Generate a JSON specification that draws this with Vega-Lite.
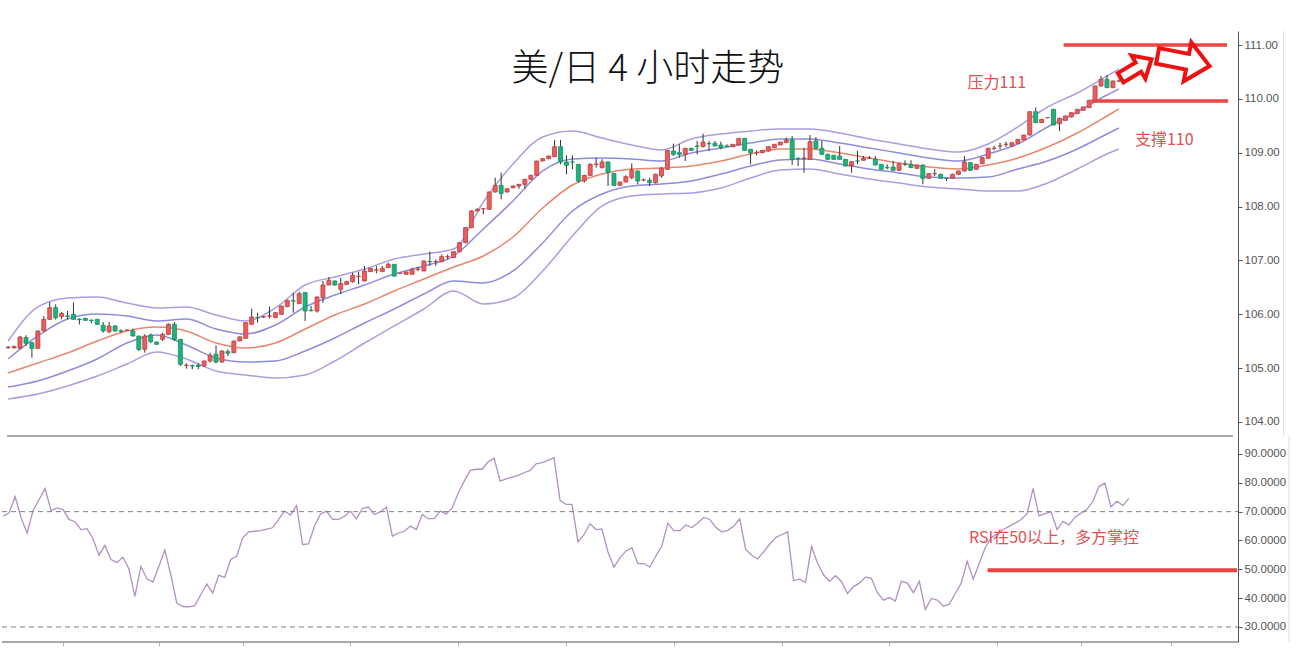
{
"$schema":"https://vega.github.io/schema/vega-lite/v6.json",
"background":"white",
"padding":{"left":0,"top":30,"right":20,"bottom":20},
"spacing":0,
"bounds":"flush",
"config":{"view":{"stroke":null},"axis":{"grid":false,"title":null,"domainColor":"#555555","tickColor":"#555555","labelColor":"#555555","labelFontSize":11.5,"labelFont":"Liberation Sans"}},
"datasets":{
"bands":[
{"t":0,"uo":105.504,"ui":105.170,"m":104.910,"li":104.650,"lo":104.427},
{"t":5,"uo":106.136,"ui":105.597,"m":105.096,"li":104.762,"lo":104.520},
{"t":10,"uo":106.303,"ui":105.913,"m":105.281,"li":104.947,"lo":104.669},
{"t":15,"uo":106.321,"ui":106.005,"m":105.504,"li":105.170,"lo":104.854},
{"t":20,"uo":106.210,"ui":105.968,"m":105.690,"li":105.467,"lo":105.077},
{"t":25,"uo":106.117,"ui":105.876,"m":105.764,"li":105.616,"lo":105.300},
{"t":30,"uo":106.136,"ui":105.913,"m":105.690,"li":105.430,"lo":105.170},
{"t":35,"uo":105.987,"ui":105.727,"m":105.467,"li":105.189,"lo":104.947},
{"t":40,"uo":105.876,"ui":105.634,"m":105.374,"li":105.114,"lo":104.873},
{"t":45,"uo":106.117,"ui":105.801,"m":105.467,"li":105.133,"lo":104.817},
{"t":50,"uo":106.544,"ui":106.136,"m":105.727,"li":105.319,"lo":104.873},
{"t":55,"uo":106.692,"ui":106.358,"m":105.987,"li":105.560,"lo":105.133},
{"t":60,"uo":106.841,"ui":106.544,"m":106.191,"li":105.838,"lo":105.467},
{"t":65,"uo":107.027,"ui":106.748,"m":106.433,"li":106.098,"lo":105.783},
{"t":70,"uo":107.119,"ui":106.897,"m":106.655,"li":106.377,"lo":106.098},
{"t":75,"uo":107.212,"ui":107.082,"m":106.878,"li":106.618,"lo":106.433},
{"t":80,"uo":108.085,"ui":107.584,"m":107.082,"li":106.581,"lo":106.191},
{"t":85,"uo":108.791,"ui":108.104,"m":107.435,"li":106.804,"lo":106.303},
{"t":90,"uo":109.292,"ui":108.661,"m":107.974,"li":107.324,"lo":106.804},
{"t":95,"uo":109.403,"ui":108.883,"m":108.401,"li":107.918,"lo":107.454},
{"t":100,"uo":109.273,"ui":108.902,"m":108.605,"li":108.234,"lo":108.011},
{"t":105,"uo":109.143,"ui":108.883,"m":108.698,"li":108.382,"lo":108.196},
{"t":110,"uo":109.051,"ui":108.846,"m":108.716,"li":108.419,"lo":108.234},
{"t":115,"uo":109.255,"ui":108.995,"m":108.753,"li":108.475,"lo":108.252},
{"t":120,"uo":109.348,"ui":109.088,"m":108.846,"li":108.605,"lo":108.345},
{"t":125,"uo":109.403,"ui":109.180,"m":108.976,"li":108.753,"lo":108.531},
{"t":130,"uo":109.441,"ui":109.255,"m":109.069,"li":108.865,"lo":108.679},
{"t":135,"uo":109.441,"ui":109.255,"m":109.069,"li":108.883,"lo":108.698},
{"t":140,"uo":109.366,"ui":109.180,"m":108.995,"li":108.791,"lo":108.605},
{"t":145,"uo":109.255,"ui":109.088,"m":108.902,"li":108.698,"lo":108.512},
{"t":150,"uo":109.162,"ui":108.995,"m":108.809,"li":108.624,"lo":108.438},
{"t":155,"uo":109.069,"ui":108.902,"m":108.735,"li":108.549,"lo":108.364},
{"t":160,"uo":109.013,"ui":108.846,"m":108.698,"li":108.531,"lo":108.326},
{"t":165,"uo":109.162,"ui":108.976,"m":108.772,"li":108.549,"lo":108.289},
{"t":170,"uo":109.478,"ui":109.162,"m":108.902,"li":108.698,"lo":108.289},
{"t":175,"uo":109.849,"ui":109.478,"m":109.106,"li":108.846,"lo":108.438},
{"t":180,"uo":110.109,"ui":109.756,"m":109.366,"li":109.069,"lo":108.698},
{"t":185,"uo":110.424,"ui":110.072,"m":109.682,"li":109.348,"lo":108.976},
{"t":187,"uo":110.554,"ui":110.183,"m":109.812,"li":109.459,"lo":109.069}
],
"candles":[
{"t":0,"o":105.38,"h":105.41,"l":105.36,"c":105.39,"r":68.4},
{"t":1,"o":105.38,"h":105.42,"l":105.36,"c":105.40,"r":69.6},
{"t":2,"o":105.368,"h":105.6,"l":105.36,"c":105.578,"r":75.2},
{"t":3,"o":105.566,"h":105.609,"l":105.411,"c":105.461,"r":67.8},
{"t":4,"o":105.473,"h":105.49,"l":105.194,"c":105.368,"r":62.6},
{"t":5,"o":105.368,"h":105.7,"l":105.36,"c":105.69,"r":70.4},
{"t":6,"o":105.69,"h":105.968,"l":105.68,"c":105.906,"r":74.2},
{"t":7,"o":105.906,"h":106.228,"l":105.9,"c":106.123,"r":78.0},
{"t":8,"o":106.123,"h":106.185,"l":105.906,"c":105.937,"r":70.4},
{"t":9,"o":105.956,"h":106.042,"l":105.906,"c":106.018,"r":71.3},
{"t":10,"o":105.97,"h":106.061,"l":105.906,"c":105.96,"r":70.7},
{"t":11,"o":105.999,"h":106.22,"l":105.9,"c":105.906,"r":67.3},
{"t":12,"o":105.91,"h":105.925,"l":105.813,"c":105.9,"r":66.5},
{"t":13,"o":105.925,"h":105.93,"l":105.88,"c":105.888,"r":63.8},
{"t":14,"o":105.89,"h":105.906,"l":105.832,"c":105.885,"r":64.1},
{"t":15,"o":105.906,"h":105.91,"l":105.8,"c":105.813,"r":60.7},
{"t":16,"o":105.795,"h":105.857,"l":105.659,"c":105.69,"r":54.9},
{"t":17,"o":105.677,"h":105.857,"l":105.646,"c":105.782,"r":58.3},
{"t":18,"o":105.782,"h":105.8,"l":105.68,"c":105.69,"r":53.4},
{"t":19,"o":105.69,"h":105.72,"l":105.659,"c":105.685,"r":52.4},
{"t":20,"o":105.7,"h":105.72,"l":105.69,"c":105.705,"r":54.2},
{"t":21,"o":105.69,"h":105.733,"l":105.59,"c":105.597,"r":50.2},
{"t":22,"o":105.597,"h":105.6,"l":105.318,"c":105.349,"r":40.6},
{"t":23,"o":105.349,"h":105.628,"l":105.287,"c":105.597,"r":51.0},
{"t":24,"o":105.615,"h":105.646,"l":105.461,"c":105.491,"r":46.7},
{"t":25,"o":105.485,"h":105.49,"l":105.44,"c":105.442,"r":45.6},
{"t":26,"o":105.535,"h":105.659,"l":105.504,"c":105.628,"r":51.0},
{"t":27,"o":105.628,"h":105.832,"l":105.62,"c":105.813,"r":56.7},
{"t":28,"o":105.813,"h":105.857,"l":105.504,"c":105.535,"r":48.1},
{"t":29,"o":105.535,"h":105.54,"l":105.04,"c":105.071,"r":38.3},
{"t":30,"o":105.05,"h":105.089,"l":104.99,"c":105.055,"r":37.1},
{"t":31,"o":105.045,"h":105.064,"l":104.978,"c":105.04,"r":37.0},
{"t":32,"o":105.052,"h":105.09,"l":104.978,"c":105.03,"r":37.4},
{"t":33,"o":105.04,"h":105.14,"l":105.03,"c":105.133,"r":41.2},
{"t":34,"o":105.133,"h":105.287,"l":105.102,"c":105.238,"r":44.9},
{"t":35,"o":105.256,"h":105.423,"l":105.089,"c":105.114,"r":41.8},
{"t":36,"o":105.114,"h":105.33,"l":105.1,"c":105.318,"r":47.9},
{"t":37,"o":105.306,"h":105.349,"l":105.225,"c":105.275,"r":47.2},
{"t":38,"o":105.287,"h":105.51,"l":105.28,"c":105.504,"r":53.4},
{"t":39,"o":105.505,"h":105.59,"l":105.5,"c":105.58,"r":54.5},
{"t":40,"o":105.554,"h":105.85,"l":105.55,"c":105.845,"r":60.9},
{"t":41,"o":105.814,"h":106.105,"l":105.8,"c":105.95,"r":63.0},
{"t":42,"o":105.94,"h":106.03,"l":105.845,"c":105.935,"r":63.2},
{"t":43,"o":105.95,"h":105.97,"l":105.93,"c":105.955,"r":63.4},
{"t":44,"o":105.965,"h":106.142,"l":105.925,"c":105.97,"r":63.9},
{"t":45,"o":105.938,"h":106.04,"l":105.93,"c":106.03,"r":64.4},
{"t":46,"o":106.0,"h":106.16,"l":105.99,"c":106.154,"r":67.3},
{"t":47,"o":106.142,"h":106.27,"l":106.13,"c":106.259,"r":70.2},
{"t":48,"o":106.25,"h":106.4,"l":106.03,"c":106.245,"r":68.8},
{"t":49,"o":106.197,"h":106.42,"l":106.19,"c":106.383,"r":72.1},
{"t":50,"o":106.402,"h":106.41,"l":105.876,"c":106.061,"r":58.6},
{"t":51,"o":106.075,"h":106.154,"l":106.05,"c":106.07,"r":58.8},
{"t":52,"o":106.061,"h":106.33,"l":106.03,"c":106.321,"r":65.0},
{"t":53,"o":106.309,"h":106.618,"l":106.216,"c":106.544,"r":69.2},
{"t":54,"o":106.544,"h":106.693,"l":106.54,"c":106.631,"r":70.2},
{"t":55,"o":106.618,"h":106.63,"l":106.53,"c":106.544,"r":67.3},
{"t":56,"o":106.464,"h":106.68,"l":106.371,"c":106.569,"r":67.3},
{"t":57,"o":106.556,"h":106.62,"l":106.55,"c":106.606,"r":68.4},
{"t":58,"o":106.606,"h":106.773,"l":106.587,"c":106.724,"r":70.2},
{"t":59,"o":106.7,"h":106.79,"l":106.556,"c":106.705,"r":67.5},
{"t":60,"o":106.618,"h":106.897,"l":106.61,"c":106.804,"r":71.1},
{"t":61,"o":106.792,"h":106.86,"l":106.79,"c":106.854,"r":71.6},
{"t":62,"o":106.82,"h":106.897,"l":106.76,"c":106.825,"r":69.0},
{"t":63,"o":106.792,"h":106.897,"l":106.79,"c":106.854,"r":70.0},
{"t":64,"o":106.866,"h":106.96,"l":106.86,"c":106.928,"r":71.6},
{"t":65,"o":106.928,"h":106.93,"l":106.7,"c":106.711,"r":61.5},
{"t":66,"o":106.76,"h":106.77,"l":106.75,"c":106.76,"r":62.6},
{"t":67,"o":106.742,"h":106.79,"l":106.74,"c":106.786,"r":63.2},
{"t":68,"o":106.742,"h":106.866,"l":106.74,"c":106.835,"r":65.0},
{"t":69,"o":106.835,"h":106.88,"l":106.8,"c":106.84,"r":63.8},
{"t":70,"o":106.804,"h":107.0,"l":106.8,"c":106.99,"r":69.0},
{"t":71,"o":106.98,"h":107.163,"l":106.897,"c":106.975,"r":67.6},
{"t":72,"o":106.975,"h":107.02,"l":106.897,"c":106.98,"r":67.6},
{"t":73,"o":106.977,"h":107.11,"l":106.97,"c":107.07,"r":70.2},
{"t":74,"o":107.07,"h":107.11,"l":107.02,"c":107.072,"r":69.2},
{"t":75,"o":107.052,"h":107.17,"l":107.05,"c":107.163,"r":71.3},
{"t":76,"o":107.163,"h":107.34,"l":107.16,"c":107.33,"r":76.5},
{"t":77,"o":107.33,"h":107.62,"l":107.32,"c":107.608,"r":80.6},
{"t":78,"o":107.608,"h":107.93,"l":107.6,"c":107.918,"r":84.3},
{"t":79,"o":107.918,"h":107.97,"l":107.91,"c":107.949,"r":84.7},
{"t":80,"o":107.96,"h":107.97,"l":107.856,"c":107.961,"r":84.7},
{"t":81,"o":107.949,"h":108.28,"l":107.94,"c":108.271,"r":87.3},
{"t":82,"o":108.271,"h":108.537,"l":108.26,"c":108.394,"r":88.5},
{"t":83,"o":108.394,"h":108.63,"l":108.134,"c":108.246,"r":80.6},
{"t":84,"o":108.271,"h":108.34,"l":108.26,"c":108.332,"r":81.4},
{"t":85,"o":108.351,"h":108.39,"l":108.34,"c":108.382,"r":82.0},
{"t":86,"o":108.382,"h":108.42,"l":108.33,"c":108.413,"r":82.6},
{"t":87,"o":108.413,"h":108.51,"l":108.33,"c":108.506,"r":83.5},
{"t":88,"o":108.506,"h":108.59,"l":108.5,"c":108.58,"r":84.3},
{"t":89,"o":108.58,"h":108.85,"l":108.57,"c":108.846,"r":86.6},
{"t":90,"o":108.846,"h":108.9,"l":108.84,"c":108.889,"r":87.0},
{"t":91,"o":108.889,"h":108.945,"l":108.88,"c":108.939,"r":87.8},
{"t":92,"o":108.927,"h":109.236,"l":108.92,"c":109.112,"r":88.7},
{"t":93,"o":109.112,"h":109.236,"l":108.784,"c":108.828,"r":73.9},
{"t":94,"o":108.828,"h":108.951,"l":108.599,"c":108.766,"r":72.5},
{"t":95,"o":108.83,"h":108.951,"l":108.692,"c":108.828,"r":72.5},
{"t":96,"o":108.784,"h":108.79,"l":108.444,"c":108.475,"r":59.5},
{"t":97,"o":108.475,"h":108.59,"l":108.444,"c":108.58,"r":62.0},
{"t":98,"o":108.58,"h":108.803,"l":108.57,"c":108.784,"r":65.8},
{"t":99,"o":108.784,"h":108.908,"l":108.722,"c":108.79,"r":63.8},
{"t":100,"o":108.722,"h":108.877,"l":108.71,"c":108.828,"r":64.0},
{"t":101,"o":108.828,"h":108.84,"l":108.382,"c":108.63,"r":56.0},
{"t":102,"o":108.617,"h":108.62,"l":108.382,"c":108.394,"r":50.8},
{"t":103,"o":108.394,"h":108.46,"l":108.39,"c":108.456,"r":54.0},
{"t":104,"o":108.456,"h":108.58,"l":108.45,"c":108.555,"r":56.3},
{"t":105,"o":108.537,"h":108.803,"l":108.506,"c":108.673,"r":57.5},
{"t":106,"o":108.66,"h":108.67,"l":108.413,"c":108.475,"r":52.0},
{"t":107,"o":108.494,"h":108.52,"l":108.47,"c":108.495,"r":52.0},
{"t":108,"o":108.487,"h":108.537,"l":108.382,"c":108.444,"r":50.8},
{"t":109,"o":108.444,"h":108.61,"l":108.43,"c":108.599,"r":54.6},
{"t":110,"o":108.568,"h":108.735,"l":108.537,"c":108.71,"r":58.1},
{"t":111,"o":108.692,"h":109.05,"l":108.68,"c":109.044,"r":66.0},
{"t":112,"o":109.032,"h":109.168,"l":108.939,"c":108.97,"r":63.4},
{"t":113,"o":109.001,"h":109.156,"l":108.908,"c":108.97,"r":63.4},
{"t":114,"o":108.97,"h":109.09,"l":108.846,"c":109.081,"r":65.4},
{"t":115,"o":109.081,"h":109.09,"l":109.03,"c":109.044,"r":64.5},
{"t":116,"o":109.125,"h":109.218,"l":108.97,"c":109.12,"r":66.1},
{"t":117,"o":109.112,"h":109.354,"l":109.1,"c":109.199,"r":68.0},
{"t":118,"o":109.17,"h":109.218,"l":109.032,"c":109.168,"r":67.3},
{"t":119,"o":109.174,"h":109.218,"l":109.12,"c":109.125,"r":64.6},
{"t":120,"o":109.143,"h":109.205,"l":109.063,"c":109.094,"r":63.0},
{"t":121,"o":109.125,"h":109.156,"l":109.11,"c":109.12,"r":63.5},
{"t":122,"o":109.112,"h":109.16,"l":109.1,"c":109.156,"r":64.9},
{"t":123,"o":109.143,"h":109.27,"l":109.14,"c":109.267,"r":67.5},
{"t":124,"o":109.267,"h":109.27,"l":109.04,"c":109.044,"r":56.9},
{"t":125,"o":109.063,"h":109.07,"l":108.784,"c":109.001,"r":54.9},
{"t":126,"o":109.0,"h":109.044,"l":108.952,"c":109.001,"r":53.6},
{"t":127,"o":109.001,"h":109.05,"l":108.99,"c":109.044,"r":56.0},
{"t":128,"o":109.032,"h":109.12,"l":109.02,"c":109.112,"r":58.7},
{"t":129,"o":109.094,"h":109.16,"l":109.09,"c":109.156,"r":61.0},
{"t":130,"o":109.143,"h":109.2,"l":109.14,"c":109.199,"r":62.0},
{"t":131,"o":109.187,"h":109.28,"l":109.18,"c":109.236,"r":63.0},
{"t":132,"o":109.236,"h":109.31,"l":108.772,"c":108.877,"r":46.1},
{"t":133,"o":108.896,"h":108.91,"l":108.754,"c":108.895,"r":46.6},
{"t":134,"o":108.896,"h":109.094,"l":108.63,"c":108.9,"r":45.5},
{"t":135,"o":108.877,"h":109.329,"l":108.87,"c":109.205,"r":57.9},
{"t":136,"o":109.218,"h":109.292,"l":109.07,"c":109.081,"r":52.2},
{"t":137,"o":109.081,"h":109.218,"l":108.96,"c":108.97,"r":48.1},
{"t":138,"o":108.97,"h":108.98,"l":108.87,"c":108.877,"r":45.8},
{"t":139,"o":108.952,"h":108.96,"l":108.87,"c":108.877,"r":47.8},
{"t":140,"o":108.939,"h":109.125,"l":108.87,"c":108.877,"r":45.8},
{"t":141,"o":108.877,"h":108.88,"l":108.745,"c":108.753,"r":41.6},
{"t":142,"o":108.753,"h":108.84,"l":108.63,"c":108.834,"r":44.0},
{"t":143,"o":108.846,"h":109.032,"l":108.784,"c":108.845,"r":45.2},
{"t":144,"o":108.859,"h":108.939,"l":108.85,"c":108.896,"r":47.3},
{"t":145,"o":108.896,"h":108.939,"l":108.89,"c":108.897,"r":46.9},
{"t":146,"o":108.877,"h":108.939,"l":108.765,"c":108.772,"r":41.9},
{"t":147,"o":108.784,"h":108.79,"l":108.685,"c":108.692,"r":39.3},
{"t":148,"o":108.723,"h":108.784,"l":108.692,"c":108.722,"r":40.2},
{"t":149,"o":108.735,"h":108.846,"l":108.665,"c":108.673,"r":39.0},
{"t":150,"o":108.673,"h":108.8,"l":108.665,"c":108.797,"r":45.8},
{"t":151,"o":108.785,"h":108.859,"l":108.754,"c":108.784,"r":45.2},
{"t":152,"o":108.784,"h":108.859,"l":108.715,"c":108.723,"r":41.9},
{"t":153,"o":108.71,"h":108.78,"l":108.7,"c":108.772,"r":45.8},
{"t":154,"o":108.772,"h":108.78,"l":108.413,"c":108.524,"r":36.0},
{"t":155,"o":108.524,"h":108.62,"l":108.515,"c":108.611,"r":39.9},
{"t":156,"o":108.611,"h":108.692,"l":108.568,"c":108.612,"r":39.3},
{"t":157,"o":108.599,"h":108.61,"l":108.515,"c":108.524,"r":37.2},
{"t":158,"o":108.525,"h":108.53,"l":108.475,"c":108.524,"r":37.9},
{"t":159,"o":108.524,"h":108.61,"l":108.515,"c":108.599,"r":41.6},
{"t":160,"o":108.599,"h":108.67,"l":108.59,"c":108.66,"r":45.2},
{"t":161,"o":108.661,"h":108.94,"l":108.65,"c":108.828,"r":52.8},
{"t":162,"o":108.815,"h":108.82,"l":108.665,"c":108.673,"r":46.6},
{"t":163,"o":108.692,"h":108.79,"l":108.685,"c":108.785,"r":52.0},
{"t":164,"o":108.797,"h":108.915,"l":108.79,"c":108.908,"r":57.5},
{"t":165,"o":108.896,"h":109.09,"l":108.89,"c":109.081,"r":61.0},
{"t":166,"o":109.081,"h":109.125,"l":109.044,"c":109.082,"r":62.2},
{"t":167,"o":109.125,"h":109.187,"l":109.063,"c":109.126,"r":63.8},
{"t":168,"o":109.156,"h":109.205,"l":109.107,"c":109.157,"r":64.9},
{"t":169,"o":109.125,"h":109.19,"l":109.12,"c":109.187,"r":66.0},
{"t":170,"o":109.174,"h":109.25,"l":109.17,"c":109.249,"r":67.3},
{"t":171,"o":109.236,"h":109.33,"l":109.23,"c":109.329,"r":69.3},
{"t":172,"o":109.329,"h":109.77,"l":109.32,"c":109.762,"r":78.1},
{"t":173,"o":109.762,"h":109.837,"l":109.55,"c":109.558,"r":68.5},
{"t":174,"o":109.558,"h":109.63,"l":109.55,"c":109.62,"r":69.3},
{"t":175,"o":109.651,"h":109.66,"l":109.64,"c":109.652,"r":69.9},
{"t":176,"o":109.806,"h":109.81,"l":109.51,"c":109.515,"r":63.8},
{"t":177,"o":109.54,"h":109.65,"l":109.403,"c":109.639,"r":66.6},
{"t":178,"o":109.601,"h":109.69,"l":109.59,"c":109.682,"r":65.4},
{"t":179,"o":109.663,"h":109.75,"l":109.655,"c":109.744,"r":68.1},
{"t":180,"o":109.725,"h":109.81,"l":109.72,"c":109.806,"r":69.5},
{"t":181,"o":109.787,"h":109.855,"l":109.78,"c":109.849,"r":70.8},
{"t":182,"o":109.837,"h":109.98,"l":109.83,"c":109.973,"r":73.6},
{"t":183,"o":109.973,"h":110.245,"l":109.96,"c":110.239,"r":78.7},
{"t":184,"o":110.239,"h":110.425,"l":110.23,"c":110.363,"r":79.9},
{"t":185,"o":110.363,"h":110.443,"l":110.2,"c":110.208,"r":71.6},
{"t":186,"o":110.208,"h":110.34,"l":110.2,"c":110.332,"r":73.6},
{"t":187,"o":110.332,"h":110.36,"l":110.31,"c":110.333,"r":72.2},
{"t":188,"o":110.335,"h":110.36,"l":110.32,"c":110.336,"r":74.6}
]
},
"vconcat":[
{
"width":1236,"height":405,
"encoding":{
 "x":{"field":"t","type":"quantitative","scale":{"domain":[-0.192,206.22],"nice":false,"zero":false},"axis":null},
 "y":{"field":"l","type":"quantitative","scale":{"domain":[103.74,111.26],"nice":false,"zero":false},
  "axis":{"orient":"right","values":[104,105,106,107,108,109,110,111],"format":".2f","tickSize":4,"labelPadding":2}}
},
"layer":[
{"data":{"name":"bands"},"mark":{"type":"line","color":"#ab9ee0","strokeWidth":1.5,"interpolate":"monotone","clip":true},
 "encoding":{"y":{"field":"uo","type":"quantitative"}}},
{"data":{"name":"bands"},"mark":{"type":"line","color":"#8d8ddc","strokeWidth":1.5,"interpolate":"monotone","clip":true},
 "encoding":{"y":{"field":"ui","type":"quantitative"}}},
{"data":{"name":"bands"},"mark":{"type":"line","color":"#e8876d","strokeWidth":1.5,"interpolate":"monotone","clip":true},
 "encoding":{"y":{"field":"m","type":"quantitative"}}},
{"data":{"name":"bands"},"mark":{"type":"line","color":"#8d8ddc","strokeWidth":1.5,"interpolate":"monotone","clip":true},
 "encoding":{"y":{"field":"li","type":"quantitative"}}},
{"data":{"name":"bands"},"mark":{"type":"line","color":"#ab9ee0","strokeWidth":1.5,"interpolate":"monotone","clip":true},
 "encoding":{"y":{"field":"lo","type":"quantitative"}}},
{"data":{"name":"candles"},"mark":{"type":"rule","color":"#333333","strokeWidth":1,"clip":true},
 "encoding":{"y2":{"field":"h"}}},
{"data":{"name":"candles"},"mark":{"type":"bar","width":4,"strokeWidth":0.8,"clip":true},
 "encoding":{"y":{"field":"o","type":"quantitative"},
 "y2":{"field":"c"},
 "fill":{"condition":{"test":"datum.c >= datum.o","value":"#e65e5e"},"value":"#20b27c"},
 "stroke":{"condition":{"test":"datum.c >= datum.o","value":"#c23d3d"},"value":"#12905f"}}},
{"data":{"values":[{"t1":-0.192,"t2":206.22,"v":103.74}]},
 "mark":{"type":"rule","color":"#555555","strokeWidth":1},
 "encoding":{"x":{"field":"t1","type":"quantitative"},"x2":{"field":"t2"},"y":{"field":"v","type":"quantitative"}}},
{"data":{"values":[{"t":214.74,"v1":103.74,"v2":111.26}]},
 "mark":{"type":"rule","color":"#dddddd","strokeWidth":1},
 "encoding":{"y":{"field":"v1","type":"quantitative"},"y2":{"field":"v2"}}},
{"data":{"values":[{"t1":177.7,"t2":205.2,"v":111.0},{"t1":182.4,"t2":205.4,"v":109.96}]},
 "mark":{"type":"rule","color":"#e84545","strokeWidth":3.5},
 "encoding":{"x":{"field":"t1","type":"quantitative"},"x2":{"field":"t2"},"y":{"field":"v","type":"quantitative"}}},
{"data":{"values":[{"t":107.7,"v":110.536,"label":"美/日 4 小时走势"}]},
 "mark":{"type":"text","font":"Noto Sans CJK SC","fontSize":37,"fontWeight":300,"color":"#111111","align":"center","baseline":"middle"},
 "encoding":{"y":{"field":"v","type":"quantitative"},"text":{"field":"label"}}},
{"data":{"values":[{"t":161.5,"v":110.295,"label":"压力111"},{"t":189.7,"v":109.236,"label":"支撑110"}]},
 "mark":{"type":"text","font":"Noto Sans CJK SC","fontSize":16,"color":"#e0504f","align":"left","baseline":"middle"},
 "encoding":{"y":{"field":"v","type":"quantitative"},"text":{"field":"label"}}},
{"data":{"values":[{"t":189.9,"v":110.564}]},
 "mark":{"type":"point","shape":"M-1,-0.3L0.15,-0.3L0.15,-0.75L1,0L0.15,0.75L0.15,0.3L-1,0.3Z","size":1296,"angle":-31,"filled":true,"fill":"white","stroke":"#ee1111","strokeWidth":4,"opacity":1},
 "encoding":{"y":{"field":"v","type":"quantitative"}}},
{"data":{"values":[{"t":197.9,"v":110.703}]},
 "mark":{"type":"point","shape":"M-1,-0.3L0.15,-0.3L0.15,-0.75L1,0L0.15,0.75L0.15,0.3L-1,0.3Z","size":2809,"angle":11,"filled":true,"fill":"white","stroke":"#ee1111","strokeWidth":4,"opacity":1},
 "encoding":{"y":{"field":"v","type":"quantitative"}}}
]
},
{
"width":1236,"height":206,
"encoding":{
 "x":{"field":"t","type":"quantitative","scale":{"domain":[-0.192,206.22],"nice":false,"zero":false},
  "axis":{"orient":"bottom","domain":false,"labels":false,"ticks":true,"values":[10,26,40,58,76,94,112,130,148,166,180,195],"tickColor":"#bbbbbb","tickSize":4}},
 "y":{"field":"r","type":"quantitative","scale":{"domain":[24.79,96.24],"nice":false,"zero":false},
  "axis":{"orient":"right","values":[30,40,50,60,70,80,90],"format":".4f","tickSize":4,"labelPadding":2}}
},
"layer":[
{"data":{"name":"candles"},"mark":{"type":"line","color":"#b290c4","strokeWidth":1.3}},
{"data":{"values":[{"t1":-0.192,"t2":206.22,"v":70},{"t1":-0.192,"t2":206.22,"v":30}]},
 "mark":{"type":"rule","color":"#808080","strokeWidth":1,"strokeDash":[5,4]},
 "encoding":{"x":{"field":"t1","type":"quantitative"},"x2":{"field":"t2"},"y":{"field":"v","type":"quantitative"}}},
{"data":{"values":[{"t1":164.4,"t2":206.05,"v":49.7}]},
 "mark":{"type":"rule","color":"#e84545","strokeWidth":4},
 "encoding":{"x":{"field":"t1","type":"quantitative"},"x2":{"field":"t2"},"y":{"field":"v","type":"quantitative"}}},
{"data":{"values":[{"t":161.3,"v":60.86,"label":"RSI在50以上，多方掌控"}]},
 "mark":{"type":"text","font":"Noto Sans CJK SC","fontSize":16,"color":"#e0504f","align":"left","baseline":"middle"},
 "encoding":{"y":{"field":"v","type":"quantitative"},"text":{"field":"label"}}},
{"data":{"values":[{"t1":-0.192,"t2":206.22,"v":24.79}]},
 "mark":{"type":"rule","color":"#555555","strokeWidth":1},
 "encoding":{"x":{"field":"t1","type":"quantitative"},"x2":{"field":"t2"},"y":{"field":"v","type":"quantitative"}}},
{"data":{"values":[{"t":214.74,"v1":24.79,"v2":96.24}]},
 "mark":{"type":"rule","color":"#dddddd","strokeWidth":1},
 "encoding":{"y":{"field":"v1","type":"quantitative"},"y2":{"field":"v2"}}}
]
}
]
}
